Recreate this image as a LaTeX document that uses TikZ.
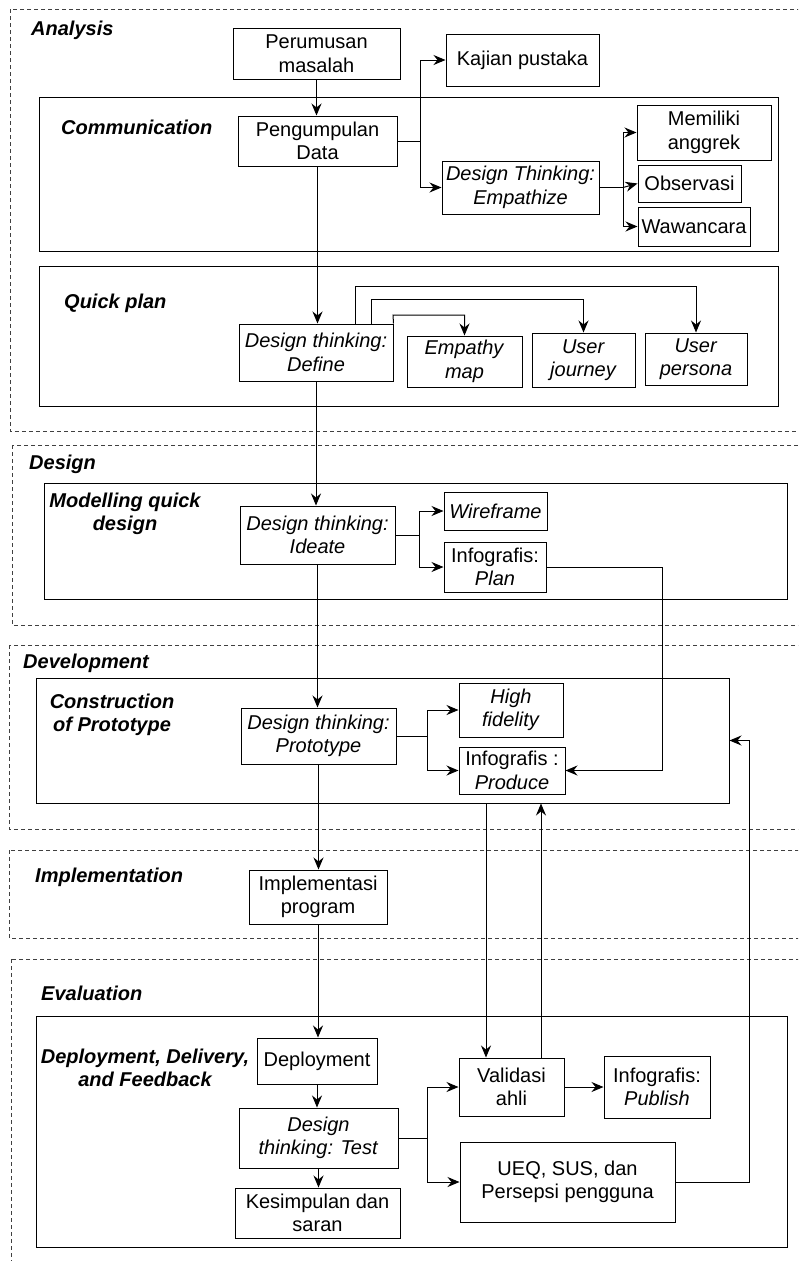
\documentclass[tikz,border=0pt]{standalone}
\usepackage{fontspec}
\setmainfont{Liberation Sans}
\usetikzlibrary{arrows.meta}
\begin{document}
\begin{tikzpicture}[x=1pt,y=-1pt,
  every node/.style={font=\fontsize{20}{23.5}\selectfont},
  box/.style={draw, line width=1pt, align=center, inner sep=0pt},
  cont/.style={draw, line width=0.95pt, inner sep=0pt},
  phase/.style={draw=black!75, line width=0.9pt, dash pattern=on 4pt off 3pt},
  lbl/.style={font=\fontsize{20}{23.5}\selectfont\bfseries\itshape, inner sep=0pt, align=center},
  arr/.style={line width=1pt, -{Stealth[length=12pt,width=10pt,inset=4pt]}},
  ln/.style={line width=1pt},
]
\useasboundingbox (0,0) rectangle (798,1261);
\clip (0,0) rectangle (798,1261);
\fill[white] (0,0) rectangle (798,1261);

% phases (dashed)
\draw[phase] (10,9) rectangle (820,431);
\draw[phase] (12,445) rectangle (820,625);
\draw[phase] (9,645) rectangle (820,829);
\draw[phase] (9,850) rectangle (820,938);
\draw[phase] (11,959) rectangle (820,1290);

% containers
\node[cont, minimum width=739pt, minimum height=154pt] (comm) at (408.5,174) {};
\node[cont, minimum width=739pt, minimum height=140pt] (qplan) at (408.5,336) {};
\node[cont, minimum width=743pt, minimum height=116pt] (model) at (415.5,541) {};
\node[cont, minimum width=693pt, minimum height=125pt] (constr) at (382.5,740.5) {};
\node[cont, minimum width=751pt, minimum height=231pt] (deployb) at (411.5,1131.5) {};

% labels
\node[lbl, anchor=west] (lanalysis) at (31,30) {Analysis};
\node[lbl, anchor=west] (lcomm) at (61,127) {Communication};
\node[lbl, anchor=west] (lqplan) at (64,303) {Quick plan};
\node[lbl, anchor=west] (ldesign) at (29,464) {Design};
\node[lbl] (lmodel) at (125,514) {Modelling quick\\design};
\node[lbl, anchor=west] (ldevel) at (23,663) {Development};
\node[lbl] (lconstr) at (112,715) {Construction\\of Prototype};
\node[lbl, anchor=west] (limpl) at (35,877) {Implementation};
\node[lbl, anchor=west] (leval) at (41,993) {Evaluation};
\node[lbl] (ldeploy) at (145,1068) {Deployment, Delivery,\\and Feedback};

% boxes
\node[box, minimum width=167pt, minimum height=51pt] (perum) at (316.5,53.5) {Perumusan\\masalah};
\node[box, minimum width=159pt, minimum height=50pt] (peng) at (317.5,141) {Pengumpulan\\Data};
\node[box, minimum width=153pt, minimum height=52pt] (kajian) at (522.5,60) {Kajian pustaka};
\node[box, minimum width=157pt, minimum height=53pt] (empath) at (520.5,187.5) {\textit{Design Thinking:}\\\textit{Empathize}};
\node[box, minimum width=134pt, minimum height=55pt] (memiliki) at (704,132.5) {Memiliki\\anggrek};
\node[box, minimum width=103pt, minimum height=37pt] (obs) at (689.5,183.5) {Observasi};
\node[box, minimum width=112pt, minimum height=39pt] (waw) at (694,226.5) {Wawancara};

\node[box, minimum width=154pt, minimum height=57pt] (define) at (316,352.5) {\textit{Design thinking:}\\\textit{Define}};
\node[box, minimum width=115pt, minimum height=51pt] (empmap) at (464.5,361.5) {\textit{Empathy}\\\textit{map}};
\node[box, minimum width=103pt, minimum height=54pt] (ujourney) at (583.5,360) {\textit{User}\\\textit{journey}};
\node[box, minimum width=102pt, minimum height=52pt] (upersona) at (696,359) {\textit{User}\\\textit{persona}};

\node[box, minimum width=155pt, minimum height=58pt] (ideate) at (317.5,535) {\textit{Design thinking:}\\\textit{Ideate}};
\node[box, minimum width=103pt, minimum height=38pt] (wire) at (495.5,511) {\textit{Wireframe}};
\node[box, minimum width=102pt, minimum height=50pt] (plan) at (495,567) {Infografis:\\\textit{Plan}};

\node[box, minimum width=155pt, minimum height=56pt] (proto) at (318.5,736) {\textit{Design thinking:}\\\textit{Prototype}};
\node[box, minimum width=104pt, minimum height=54pt] (hifi) at (511,710) {\textit{High}\\\textit{fidelity}};
\node[box, minimum width=106pt, minimum height=47pt] (produce) at (512,770.5) {Infografis :\\\textit{Produce}};

\node[box, minimum width=138pt, minimum height=54pt] (impl) at (318,897) {Implementasi\\program};

\node[box, minimum width=120pt, minimum height=46pt] (deploy) at (317,1061) {Deployment};
\node[box, minimum width=159pt, minimum height=60pt] (test) at (318.5,1138) {\textit{Design}\\\textit{thinking: Test}};
\node[box, minimum width=165pt, minimum height=50pt] (kesimp) at (317.5,1213) {Kesimpulan dan\\saran};
\node[box, minimum width=105pt, minimum height=58pt] (valid) at (511.5,1087) {Validasi\\ahli};
\node[box, minimum width=106pt, minimum height=62pt] (publish) at (657,1087) {Infografis:\\\textit{Publish}};
\node[box, minimum width=215pt, minimum height=80pt] (ueq) at (567.5,1182) {UEQ, SUS, dan\\Persepsi pengguna};

% junctions
\coordinate (j1) at (420,141);
\coordinate (j2) at (623,187.5);
\coordinate (j3) at (419,535);
\coordinate (j4) at (427,736);
\coordinate (j5) at (427,1138);
\coordinate (c1) at (662,770.5);
\coordinate (c2) at (749,740.5);

% connectors
\draw[arr] (perum.south) -- (perum.south |- peng.north);
\draw[ln] (peng.east) -- (j1);
\draw[arr] (j1) |- (kajian.west);
\draw[arr] (j1) |- (empath.west);
\draw[line width=1.6pt] (empath.east) -- (j2);
\draw[arr] (j2) |- (memiliki.west);
\draw[arr] (j2) -- (obs.west);
\draw[arr] (j2) |- (waw.west);

\draw[arr] (peng.south) -- (peng.south |- define.north);
\draw[arr] (355,0 |- define.north) -- (355,286) -| (upersona.north);
\draw[arr] (371,0 |- define.north) -- (371,299) -| (ujourney.north);
\draw[arr] (define.north east) -- (393,315) -| (empmap.north);

\draw[arr] (define.south) -- (define.south |- ideate.north);
\draw[ln] (ideate.east) -- (j3);
\draw[arr] (j3) |- (wire.west);
\draw[arr] (j3) |- (plan.west);
\draw[arr] (plan.east) -| (c1) -- (produce.east);

\draw[arr] (ideate.south) -- (ideate.south |- proto.north);
\draw[ln] (proto.east) -- (j4);
\draw[arr] (j4) |- (hifi.west);
\draw[arr] (j4) |- (produce.west);

\draw[arr] (proto.south) -- (proto.south |- impl.north);
\draw[arr] (impl.south) -- (impl.south |- deploy.north);
\draw[arr] (deploy.south) -- (deploy.south |- test.north);
\draw[arr] (test.south) -- (test.south |- kesimp.north);
\draw[ln] (test.east) -- (j5);
\draw[arr] (j5) |- (valid.west);
\draw[arr] (j5) |- (ueq.west);
\draw[arr] (valid.east) -- (publish.west);

\draw[arr] (486,0 |- constr.south) -- (486,0 |- valid.north);
\draw[arr] (541,0 |- valid.north) -- (541,0 |- constr.south);
\draw[arr] (ueq.east) -| (c2) -- (constr.east);
\end{tikzpicture}
\end{document}
